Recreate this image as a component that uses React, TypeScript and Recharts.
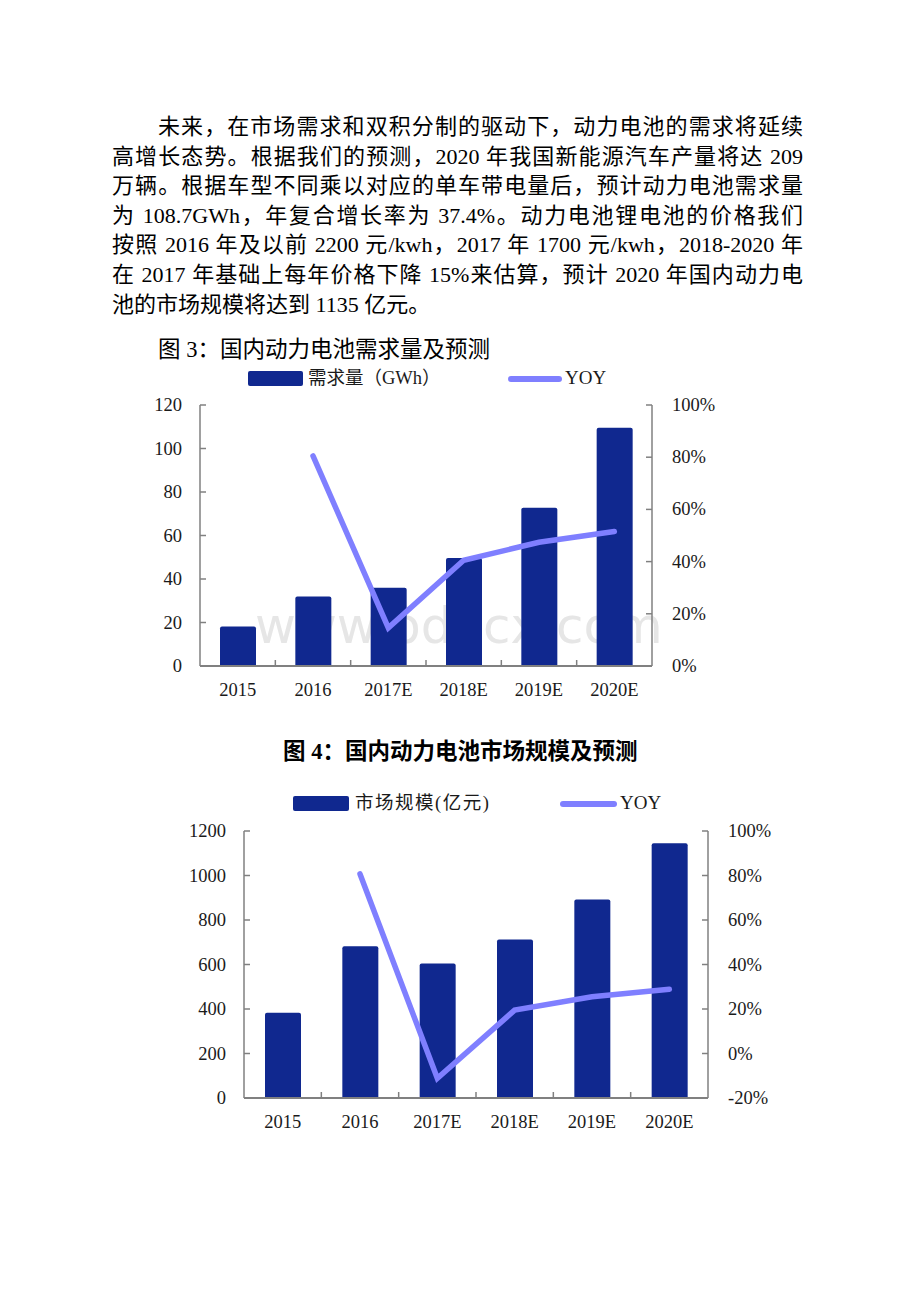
import React from "react";
import { ComposedChart, Bar, Line, XAxis, YAxis, Legend } from "recharts";

// 数据
const YEARS = ["2015", "2016", "2017E", "2018E", "2019E", "2020E"];
const DEMAND_GWH = [18.2, 32, 36, 49.6, 72.8, 109.5];
const DEMAND_YOY = [null, 0.805, 0.146, 0.405, 0.474, 0.515];
const MARKET_SIZE = [383, 682, 604, 712, 892, 1145];
const MARKET_YOY = [null, 0.807, -0.111, 0.195, 0.255, 0.289];

const DEMAND_TICKS = [0, 20, 40, 60, 80, 100, 120];
const DEMAND_PCT_TICKS = [0, 0.2, 0.4, 0.6, 0.8, 1];
const MARKET_TICKS = [0, 200, 400, 600, 800, 1000, 1200];
const MARKET_PCT_TICKS = [-0.2, 0, 0.2, 0.4, 0.6, 0.8, 1];

const BODY_LINES = [
  "未来，在市场需求和双积分制的驱动下，动力电池的需求将延续",
  "高增长态势。根据我们的预测，2020 年我国新能源汽车产量将达 209",
  "万辆。根据车型不同乘以对应的单车带电量后，预计动力电池需求量",
  "为 108.7GWh，年复合增长率为 37.4%。动力电池锂电池的价格我们",
  "按照 2016 年及以前 2200 元/kwh，2017 年 1700 元/kwh，2018-2020 年",
  "在 2017 年基础上每年价格下降 15%来估算，预计 2020 年国内动力电",
  "池的市场规模将达到 1135 亿元。",
];

const BAR_COLOR = "#10288f";
const LINE_COLOR = "#7f7fff";
const AXIS_GRAY = "#808080";
const TEXT_COLOR = "#1a1a1a";
const SERIF = "'Liberation Serif', 'Times New Roman', 'Noto Sans CJK SC', serif";

const demandData = YEARS.map((y, i) => ({ year: y, value: DEMAND_GWH[i], yoy: DEMAND_YOY[i] }));
const marketData = YEARS.map((y, i) => ({ year: y, value: MARKET_SIZE[i], yoy: MARKET_YOY[i] }));

const pct = (v: number) => `${Math.round(v * 100)}%`;

function makeLeftTick(margin: number) {
  return (props: any) => {
    const { x, y, payload } = props;
    const ax = x + margin;
    return (
      <g>
        <line x1={ax} x2={ax + 6} y1={y} y2={y} stroke={AXIS_GRAY} strokeWidth={1.5} />
        <text x={x} y={y + 6} textAnchor="end" fontSize={18.5} fill={TEXT_COLOR} fontFamily={SERIF}>
          {payload.value}
        </text>
      </g>
    );
  };
}

function makeRightTick(margin: number) {
  return (props: any) => {
    const { x, y, payload } = props;
    const ax = x - margin;
    return (
      <g>
        <line x1={ax} x2={ax - 6} y1={y} y2={y} stroke={AXIS_GRAY} strokeWidth={1.5} />
        <text x={x} y={y + 6} textAnchor="start" fontSize={18.5} fill={TEXT_COLOR} fontFamily={SERIF}>
          {pct(payload.value)}
        </text>
      </g>
    );
  };
}

function makeXTick(bandWidth: number) {
  return (props: any) => {
    const { x, y, payload, index } = props;
    const bx = x - bandWidth / 2;
    return (
      <g>
        {index > 0 && <line x1={bx} x2={bx} y1={y} y2={y - 6} stroke={AXIS_GRAY} strokeWidth={1.5} />}
        <text x={x} y={y + 30} textAnchor="middle" fontSize={18.5} fill={TEXT_COLOR} fontFamily={SERIF}>
          {payload.value}
        </text>
      </g>
    );
  };
}

type LegendPos = {
  swatchLeft: number;
  swatchWidth: number;
  textLeft: number;
  label: string;
  lineLeft: number;
  lineWidth: number;
  yoyLeft: number;
  letterSpacing: number;
};

function makeLegend(p: LegendPos) {
  return () => (
    <div style={{ position: "relative", width: 600, height: 40 }}>
      <div
        style={{
          position: "absolute",
          left: p.swatchLeft,
          top: 11,
          width: p.swatchWidth,
          height: 15,
          background: BAR_COLOR,
          borderRadius: 2,
        }}
      />
      <div
        style={{
          position: "absolute",
          left: p.textLeft,
          top: 6,
          lineHeight: "25px",
          fontSize: 18.5,
          letterSpacing: p.letterSpacing,
          color: TEXT_COLOR,
          fontFamily: SERIF,
          whiteSpace: "nowrap",
        }}
      >
        {p.label}
      </div>
      <div
        style={{
          position: "absolute",
          left: p.lineLeft,
          top: 15.5,
          width: p.lineWidth,
          height: 6,
          background: LINE_COLOR,
          borderRadius: 3,
        }}
      />
      <div
        style={{
          position: "absolute",
          left: p.yoyLeft,
          top: 5,
          lineHeight: "25px",
          fontSize: 19,
          color: TEXT_COLOR,
          fontFamily: SERIF,
        }}
      >
        YOY
      </div>
    </div>
  );
}

type ComboProps = {
  data: { year: string; value: number; yoy: number | null }[];
  leftTicks: number[];
  rightTicks: number[];
  leftWidth: number;
  rightWidth: number;
  plotWidth: number;
  marginTop: number;
  height: number;
  legend: LegendPos;
};

function ComboChart(p: ComboProps) {
  const leftMax = p.leftTicks[p.leftTicks.length - 1];
  const rightMin = p.rightTicks[0];
  const rightMax = p.rightTicks[p.rightTicks.length - 1];
  return (
    <ComposedChart
      width={p.leftWidth + p.plotWidth + p.rightWidth}
      height={p.height}
      data={p.data}
      margin={{ top: p.marginTop, right: 0, left: 0, bottom: 0 }}
    >
      <Legend
        verticalAlign="middle"
        align="center"
        content={makeLegend(p.legend)}
        wrapperStyle={{ top: 0, left: 0, width: 600, height: 40 }}
      />
      <XAxis
        dataKey="year"
        height={40}
        tickSize={0}
        tickMargin={0}
        interval={0}
        tick={makeXTick(p.plotWidth / p.data.length)}
        axisLine={{ stroke: AXIS_GRAY, strokeWidth: 2 }}
        tickLine={false}
      />
      <YAxis
        yAxisId="left"
        width={p.leftWidth}
        domain={[0, leftMax]}
        ticks={p.leftTicks}
        interval={0}
        tickSize={0}
        tickMargin={18}
        tick={makeLeftTick(18)}
        axisLine={{ stroke: AXIS_GRAY, strokeWidth: 1.5 }}
        tickLine={false}
      />
      <YAxis
        yAxisId="right"
        orientation="right"
        width={p.rightWidth}
        domain={[rightMin, rightMax]}
        ticks={p.rightTicks}
        interval={0}
        tickSize={0}
        tickMargin={20}
        tick={makeRightTick(20)}
        axisLine={{ stroke: AXIS_GRAY, strokeWidth: 1.5 }}
        tickLine={false}
      />
      <Bar
        yAxisId="left"
        dataKey="value"
        fill={BAR_COLOR}
        barSize={36}
        radius={[2, 2, 0, 0]}
        isAnimationActive={false}
      />
      <Line
        yAxisId="right"
        dataKey="yoy"
        type="linear"
        stroke={LINE_COLOR}
        strokeWidth={5.5}
        strokeLinecap="round"
        dot={false}
        activeDot={false}
        isAnimationActive={false}
      />
    </ComposedChart>
  );
}

export default function App() {
  return (
    <div
      style={{
        position: "absolute",
        left: 0,
        top: 0,
        width: 920,
        height: 1302,
        background: "#fff",
        fontFamily: SERIF,
        color: "#000",
      }}
    >
      {/* 正文 */}
      <div style={{ position: "absolute", left: 112, top: 112, width: 691, fontSize: 22 }}>
        {BODY_LINES.map((line, i) => {
          const last = i === BODY_LINES.length - 1;
          return (
            <div
              key={i}
              style={{
                height: 29.6,
                lineHeight: "29.6px",
                whiteSpace: "nowrap",
                marginLeft: i === 0 ? 46 : 0,
                textAlign: last ? "left" : "justify",
                textAlignLast: last ? "left" : "justify",
              }}
            >
              {line}
            </div>
          );
        })}
      </div>

      {/* 图 3 */}
      <div style={{ position: "absolute", left: 158, top: 336, fontSize: 22.5, lineHeight: "28px", whiteSpace: "nowrap" }}>
        图 3：国内动力电池需求量及预测
      </div>
      <div
        style={{
          position: "absolute",
          left: 255,
          top: 596,
          fontSize: 50,
          lineHeight: "60px",
          color: "#e6e6e6",
          fontFamily: "'DejaVu Sans', sans-serif",
          whiteSpace: "nowrap",
        }}
      >
        www.bdocx.com
      </div>
      <div style={{ position: "absolute", left: 140, top: 360 }}>
        <ComboChart
          data={demandData}
          leftTicks={DEMAND_TICKS}
          rightTicks={DEMAND_PCT_TICKS}
          leftWidth={60}
          rightWidth={88}
          plotWidth={452}
          marginTop={45}
          height={45 + 261 + 40}
          legend={{
            swatchLeft: 108,
            swatchWidth: 55,
            textLeft: 168,
            label: "需求量（GWh）",
            lineLeft: 368,
            lineWidth: 54,
            yoyLeft: 425,
            letterSpacing: 0,
          }}
        />
      </div>

      {/* 图 4 */}
      <div
        style={{
          position: "absolute",
          left: 283,
          top: 738,
          fontSize: 22.5,
          lineHeight: "28px",
          fontWeight: "bold",
          whiteSpace: "nowrap",
        }}
      >
        图 4：国内动力电池市场规模及预测
      </div>
      <div style={{ position: "absolute", left: 184, top: 785 }}>
        <ComboChart
          data={marketData}
          leftTicks={MARKET_TICKS}
          rightTicks={MARKET_PCT_TICKS}
          leftWidth={60}
          rightWidth={76}
          plotWidth={464}
          marginTop={46}
          height={46 + 267 + 40}
          legend={{
            swatchLeft: 109,
            swatchWidth: 56,
            textLeft: 171,
            label: "市场规模(亿元)",
            lineLeft: 376,
            lineWidth: 57,
            yoyLeft: 436,
            letterSpacing: 1.5,
          }}
        />
      </div>
    </div>
  );
}
